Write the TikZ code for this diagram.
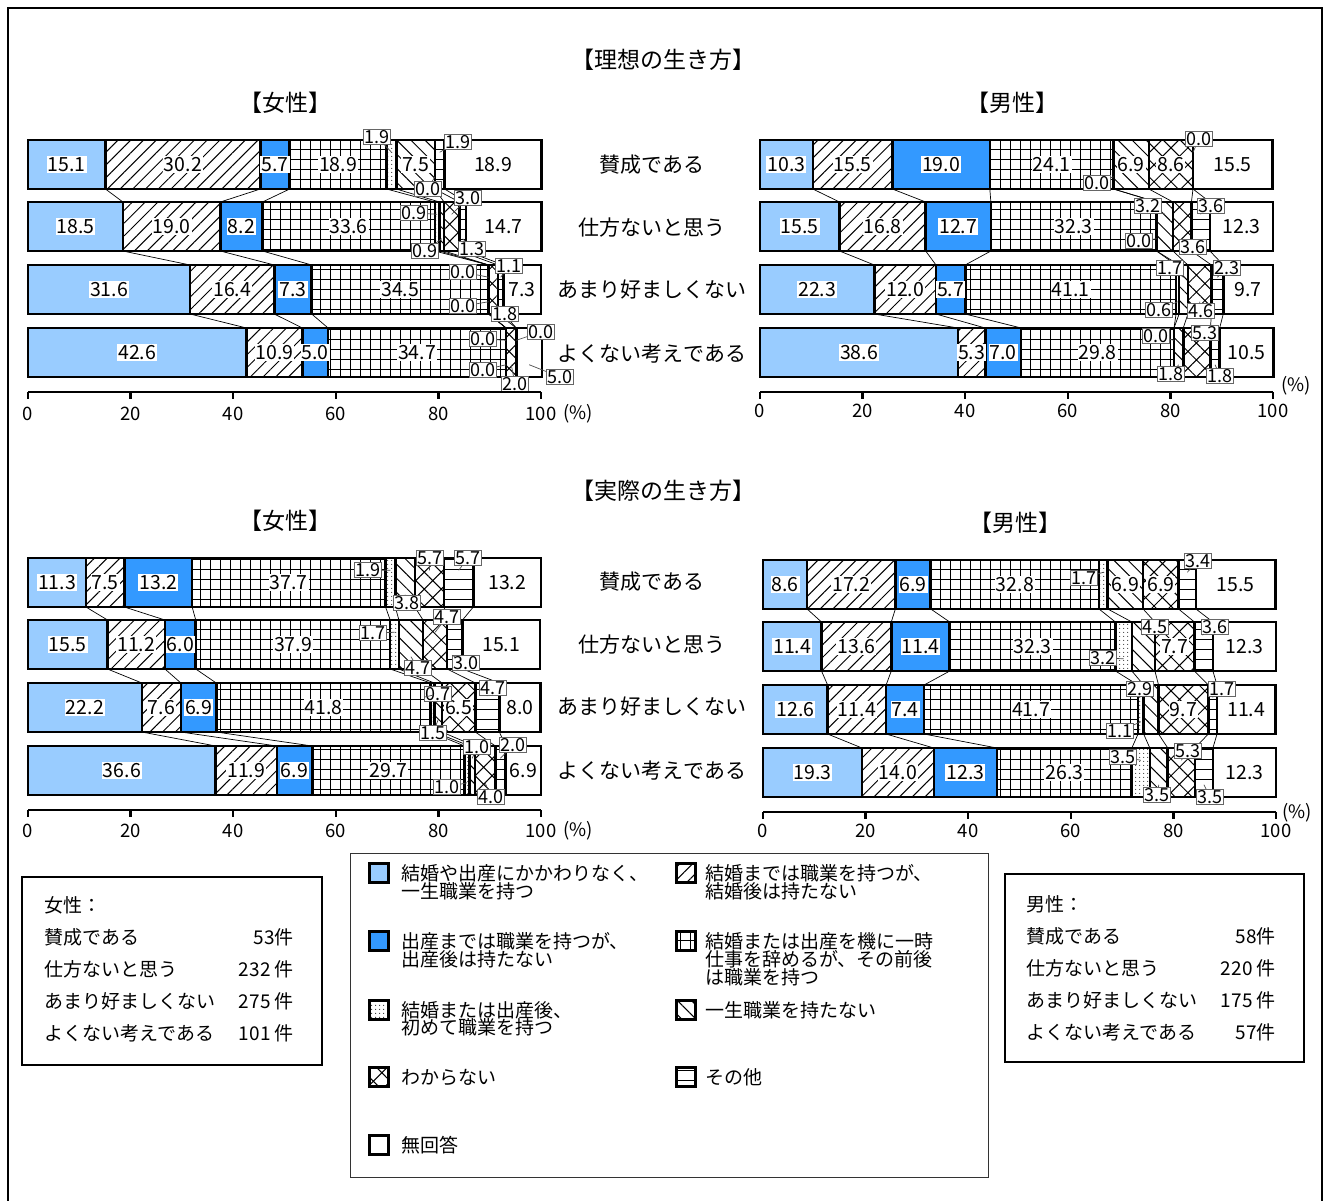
\documentclass[tikz,border=0pt]{standalone}
\usepackage{fontspec}
\setmainfont{Noto Sans CJK JP}
\usetikzlibrary{patterns.meta,calc}
\definecolor{lb}{RGB}{153,204,255}
\definecolor{db}{RGB}{51,153,255}
\newcommand\fsz[1]{\fontsize{#1}{#1}\selectfont}
\def\sc{5.13}
\newcommand\mkbar[4]{%
  \gdef\cum{0}%
  \foreach \vv [count=\i] in {#4} {%
    \pgfmathsetmacro\xa{#2+\cum*\sc}%
    \pgfmathsetmacro\ww{\vv*\sc}%
    \node[segbase,segsty=\i,minimum width=\ww pt,anchor=north west] (#1s\i) at (\xa,#3) {};%
    \pgfmathsetmacro\nc{\cum+\vv}%
    \xdef\cum{\nc}%
  }%
}
\newcommand\mkin[2]{%
  \foreach \kk/\tx in {#2} {\node[inlab] (#1l\kk) at (#1s\kk.center) {\tx};}%
}
\newcommand\mkco[3]{%
  \foreach \kk/\tx/\px/\py in {#3} {%
    \pgfmathsetmacro\fr{(\py < #2+24.5) ? 0.25 : 0.75}%
    \coordinate (#1p\kk) at ($(#1s\kk.north)!\fr!(#1s\kk.south)$);%
    \node[callout] (#1c\kk) at (\px,\py) {\tx};%
    \draw[tail] (#1c\kk) -- (#1p\kk);%
  }%
}
\newcommand\mkconn[1]{%
  \foreach \rr in {1,2,3} {%
    \pgfmathtruncatemacro\rn{\rr+1}%
    \foreach \kk in {1,...,8} {\draw[conn] (#1\rr s\kk.south east) -- (#1\rn s\kk.north east);}%
  }%
}
\newcommand\mkaxis[4]{%
  \draw[axisl] (#2,#3) -- ++(513,0);%
  \foreach \tk [count=\j] in {0,20,40,60,80,100} {%
    \draw[axisl] (#2+\tk*\sc,#3) -- ++(0,7);%
    \node[ticklab] (#1t\j) at (#2+\tk*\sc,#4) {\tk};%
  }%
}
\begin{document}
\begin{tikzpicture}[x=1pt,y=-1pt,
  segbase/.style={draw=black,line width=2.6pt,minimum height=49pt,inner sep=0pt,outer sep=0pt},
  seg1/.style={fill=lb},
  seg2/.style={pattern={Lines[angle=45,distance=9pt,line width=1pt]}},
  seg3/.style={fill=db},
  seg4/.style={pattern={Hatch[angle=0,distance=10pt,line width=1pt]}},
  seg5/.style={pattern={Dots[distance=4pt,radius=0.6pt]}},
  seg6/.style={pattern={Lines[angle=-45,distance=10pt,line width=1pt]}},
  seg7/.style={pattern={Hatch[angle=45,distance=12pt,line width=1pt]}},
  seg8/.style={pattern={Lines[angle=0,distance=10pt,line width=1pt]}},
  seg9/.style={fill=white},
  segsty/.code={\ifcase#1\relax\or\tikzset{seg1}\or\tikzset{seg2}\or\tikzset{seg3}\or\tikzset{seg4}\or\tikzset{seg5}\or\tikzset{seg6}\or\tikzset{seg7}\or\tikzset{seg8}\or\tikzset{seg9}\fi},
  inlab/.style={fill=white,inner sep=1pt,font=\fsz{19.5}},
  callout/.style={draw=black!60,line width=0.8pt,fill=white,inner sep=1pt,font=\fsz{18}},
  tail/.style={draw=black!70,line width=0.7pt},
  conn/.style={draw=black,line width=0.7pt},
  axisl/.style={draw=black,line width=2.5pt},
  ticklab/.style={font=\fsz{18.5},inner sep=0pt},
  rowlab/.style={font=\fsz{21},inner sep=0pt},
  ttl/.style={font=\fsz{23},inner sep=0pt},
  lgtxt/.style={font=\fsz{19},anchor=west,inner sep=0pt},
  bxtxt/.style={font=\fsz{19},inner sep=0pt},
  sw/.style={draw=black,line width=2.5pt,minimum width=19pt,minimum height=19pt,inner sep=0pt}
]
\useasboundingbox (0,0) rectangle (1324,1200);
\fill[white] (0,0) rectangle (1324,1200);
\draw[line width=1.5pt] (8,1215) -- (8,8) -- (1322,8) -- (1322,1215);

% titles
\node[ttl] (ti1) at (663,60) {【理想の生き方】};
\node[ttl] (ti2) at (285,103) {【女性】};
\node[ttl] (ti3) at (1012,103) {【男性】};
\node[ttl] (ti4) at (663,491) {【実際の生き方】};
\node[ttl] (ti5) at (285,521) {【女性】};
\node[ttl] (ti6) at (1015,523) {【男性】};

% row labels
\node[rowlab] (rl1) at (652,165) {賛成である};
\node[rowlab] (rl2) at (652,228) {仕方ないと思う};
\node[rowlab] (rl3) at (652,290) {あまり好ましくない};
\node[rowlab] (rl4) at (652,354) {よくない考えである};
\node[rowlab] (rl5) at (652,582) {賛成である};
\node[rowlab] (rl6) at (652,645) {仕方ないと思う};
\node[rowlab] (rl7) at (652,707) {あまり好ましくない};
\node[rowlab] (rl8) at (652,771) {よくない考えである};

% ===== women ideal
\mkbar{wi1}{28}{140}{15.1,30.2,5.7,18.9,1.9,7.5,0.0,1.9,18.9}
\mkbar{wi2}{28}{202}{18.5,19.0,8.2,33.6,0.9,0.9,3.0,1.3,14.7}
\mkbar{wi3}{28}{265}{31.6,16.4,7.3,34.5,0.0,0.0,1.8,1.1,7.3}
\mkbar{wi4}{28}{328}{42.6,10.9,5.0,34.7,0.0,0.0,2.0,0.0,5.0}
\mkconn{wi}
\mkin{wi1}{1/15.1,2/30.2,3/5.7,4/18.9,6/7.5,9/18.9}
\mkin{wi2}{1/18.5,2/19.0,3/8.2,4/33.6,9/14.7}
\mkin{wi3}{1/31.6,2/16.4,3/7.3,4/34.5,9/7.3}
\mkin{wi4}{1/42.6,2/10.9,3/5.0,4/34.7}
\mkco{wi1}{140}{5/1.9/377/137,7/0.0/428/189,8/1.9/458/142}
\mkco{wi2}{202}{5/0.9/414/213,6/0.9/425/251,7/3.0/468/198,8/1.3/472/249}
\mkco{wi3}{265}{5/0.0/463/272,6/0.0/463/306,7/1.8/505/314,8/1.1/509/266}
\mkco{wi4}{328}{5/0.0/483/339,6/0.0/483/370,7/2.0/515/384,8/0.0/541/332,9/5.0/560/377}
\mkaxis{wi}{28}{392}{414}
\node[ticklab] (wipc) at (578,414) {(\%)};

% ===== men ideal
\mkbar{mi1}{760}{140}{10.3,15.5,19.0,24.1,0.0,6.9,8.6,0.0,15.5}
\mkbar{mi2}{760}{202}{15.5,16.8,12.7,32.3,0.0,3.2,3.6,3.6,12.3}
\mkbar{mi3}{760}{265}{22.3,12.0,5.7,41.1,0.6,1.7,4.6,2.3,9.7}
\mkbar{mi4}{760}{328}{38.6,5.3,7.0,29.8,0.0,1.8,5.3,1.8,10.5}
\mkconn{mi}
\mkin{mi1}{1/10.3,2/15.5,3/19.0,4/24.1,6/6.9,7/8.6,9/15.5}
\mkin{mi2}{1/15.5,2/16.8,3/12.7,4/32.3,9/12.3}
\mkin{mi3}{1/22.3,2/12.0,3/5.7,4/41.1,9/9.7}
\mkin{mi4}{1/38.6,2/5.3,3/7.0,4/29.8,9/10.5}
\mkco{mi1}{140}{5/0.0/1097/183,8/0.0/1199/139}
\mkco{mi2}{202}{5/0.0/1139/241,6/3.2/1148/206,7/3.6/1193/247,8/3.6/1211/206}
\mkco{mi3}{265}{5/0.6/1159/310,6/1.7/1170/268,7/4.6/1201/311,8/2.3/1227/268}
\mkco{mi4}{328}{5/0.0/1156/336,6/1.8/1171/374,7/5.3/1205/333,8/1.8/1220/376}
\mkaxis{mi}{760}{392}{411}
\node[ticklab] (mipc) at (1296,386) {(\%)};

% ===== women actual
\mkbar{wa1}{28}{558}{11.3,7.5,13.2,37.7,1.9,3.8,5.7,5.7,13.2}
\mkbar{wa2}{28}{620}{15.5,11.2,6.0,37.9,1.7,4.7,4.7,3.0,15.1}
\mkbar{wa3}{28}{683}{22.2,7.6,6.9,41.8,0.7,1.5,6.5,4.7,8.0}
\mkbar{wa4}{28}{746}{36.6,11.9,6.9,29.7,1.0,1.0,4.0,2.0,6.9}
\mkconn{wa}
\mkin{wa1}{1/11.3,2/7.5,3/13.2,4/37.7,9/13.2}
\mkin{wa2}{1/15.5,2/11.2,3/6.0,4/37.9,9/15.1}
\mkin{wa3}{1/22.2,2/7.6,3/6.9,4/41.8,7/6.5,9/8.0}
\mkin{wa4}{1/36.6,2/11.9,3/6.9,4/29.7,9/6.9}
\mkco{wa1}{558}{5/1.9/368/570,6/3.8/407/603,7/5.7/430/558,8/5.7/468/558}
\mkco{wa2}{620}{5/1.7/373/633,6/4.7/418/668,7/4.7/447/617,8/3.0/466/663}
\mkco{wa3}{683}{5/0.7/438/694,6/1.5/433/733,8/4.7/493/688}
\mkco{wa4}{746}{5/1.0/447/787,6/1.0/477/747,7/4.0/491/797,8/2.0/513/745}
\mkaxis{wa}{28}{810}{831}
\node[ticklab] (wapc) at (578,831) {(\%)};

% ===== men actual
\mkbar{ma1}{763}{560}{8.6,17.2,6.9,32.8,1.7,6.9,6.9,3.4,15.5}
\mkbar{ma2}{763}{622}{11.4,13.6,11.4,32.3,3.2,4.5,7.7,3.6,12.3}
\mkbar{ma3}{763}{685}{12.6,11.4,7.4,41.7,1.1,2.9,9.7,1.7,11.4}
\mkbar{ma4}{763}{748}{19.3,14.0,12.3,26.3,3.5,3.5,5.3,3.5,12.3}
\mkconn{ma}
\mkin{ma1}{1/8.6,2/17.2,3/6.9,4/32.8,6/6.9,7/6.9,9/15.5}
\mkin{ma2}{1/11.4,2/13.6,3/11.4,4/32.3,7/7.7,9/12.3}
\mkin{ma3}{1/12.6,2/11.4,3/7.4,4/41.7,7/9.7,9/11.4}
\mkin{ma4}{1/19.3,2/14.0,3/12.3,4/26.3,9/12.3}
\mkco{ma1}{560}{5/1.7/1084/578,8/3.4/1198/561}
\mkco{ma2}{622}{5/3.2/1103/658,6/4.5/1155/627,8/3.6/1215/627}
\mkco{ma3}{685}{5/1.1/1120/731,6/2.9/1140/689,8/1.7/1222/689}
\mkco{ma4}{748}{5/3.5/1123/757,6/3.5/1157/795,7/5.3/1188/751,8/3.5/1210/797}
\mkaxis{ma}{763}{812}{831}
\node[ticklab] (mapc) at (1297,813) {(\%)};

% ===== legend
\draw[line width=1pt,draw=black!80] (350,853) rectangle (988,1177);
\node[sw,seg1] (lgs1) at (379,873) {};
\node[sw,seg3] (lgs3) at (379,941) {};
\node[sw,seg5] (lgs5) at (379,1010) {};
\node[sw,seg7] (lgs7) at (379,1077) {};
\node[sw,seg9] (lgs9) at (379,1145) {};
\node[sw,seg2] (lgs2) at (686,873) {};
\node[sw,seg4] (lgs4) at (686,941) {};
\node[sw,seg6] (lgs6) at (686,1010) {};
\node[sw,seg8] (lgs8) at (686,1077) {};
\node[lgtxt] (lt1a) at (401,873) {結婚や出産にかかわりなく、};
\node[lgtxt] (lt1b) at (401,891) {一生職業を持つ};
\node[lgtxt] (lt3a) at (401,941) {出産までは職業を持つが、};
\node[lgtxt] (lt3b) at (401,959) {出産後は持たない};
\node[lgtxt] (lt5a) at (401,1010) {結婚または出産後、};
\node[lgtxt] (lt5b) at (401,1027) {初めて職業を持つ};
\node[lgtxt] (lt7) at (401,1077) {わからない};
\node[lgtxt] (lt9) at (401,1145) {無回答};
\node[lgtxt] (lt2a) at (705,873) {結婚までは職業を持つが、};
\node[lgtxt] (lt2b) at (705,891) {結婚後は持たない};
\node[lgtxt] (lt4a) at (705,941) {結婚または出産を機に一時};
\node[lgtxt] (lt4b) at (705,959) {仕事を辞めるが、その前後};
\node[lgtxt] (lt4c) at (705,977) {は職業を持つ};
\node[lgtxt] (lt6) at (705,1010) {一生職業を持たない};
\node[lgtxt] (lt8) at (705,1077) {その他};

% ===== count boxes
\draw[line width=1.5pt] (22,877) rectangle (322,1065);
\node[bxtxt,anchor=west] (fw0) at (44,905) {女性：};
\node[bxtxt,anchor=west] (fw1) at (44,937) {賛成である};
\node[bxtxt,anchor=west] (fw2) at (44,969) {仕方ないと思う};
\node[bxtxt,anchor=west] (fw3) at (44,1001) {あまり好ましくない};
\node[bxtxt,anchor=west] (fw4) at (44,1033) {よくない考えである};
\node[bxtxt,anchor=east] (fn1) at (294,937) {53件};
\node[bxtxt,anchor=east] (fn2) at (294,969) {232 件};
\node[bxtxt,anchor=east] (fn3) at (294,1001) {275 件};
\node[bxtxt,anchor=east] (fn4) at (294,1033) {101 件};
\draw[line width=1.5pt] (1005,874) rectangle (1304,1062);
\node[bxtxt,anchor=west] (mw0) at (1026,904) {男性：};
\node[bxtxt,anchor=west] (mw1) at (1026,936) {賛成である};
\node[bxtxt,anchor=west] (mw2) at (1026,968) {仕方ないと思う};
\node[bxtxt,anchor=west] (mw3) at (1026,1000) {あまり好ましくない};
\node[bxtxt,anchor=west] (mw4) at (1026,1032) {よくない考えである};
\node[bxtxt,anchor=east] (mn1) at (1276,936) {58件};
\node[bxtxt,anchor=east] (mn2) at (1276,968) {220 件};
\node[bxtxt,anchor=east] (mn3) at (1276,1000) {175 件};
\node[bxtxt,anchor=east] (mn4) at (1276,1032) {57件};
\end{tikzpicture}
\end{document}
